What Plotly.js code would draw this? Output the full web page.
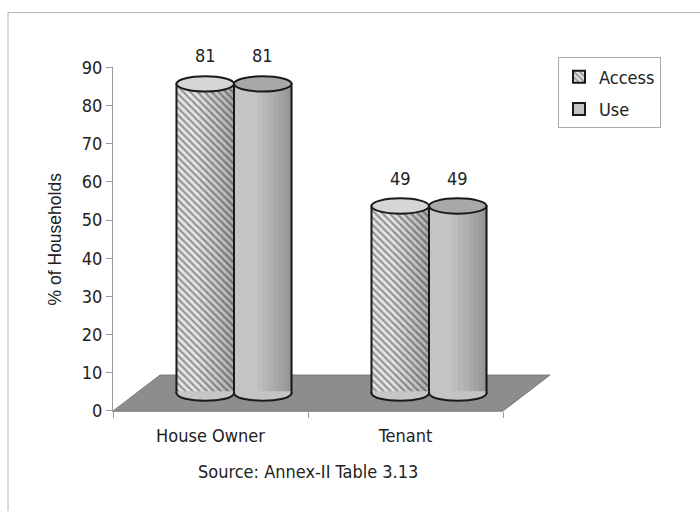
<!DOCTYPE html>
<html>
<head>
<meta charset="utf-8">
<script src="https://cdn.plot.ly/plotly-3.0.1.min.js"></script>
<style>html,body{margin:0;padding:0;background:#fff;}#chart{width:700px;height:511px;}</style>
</head>
<body>
<div id="chart"></div>
<script>
// ---- data ----
const categories = ["House Owner", "Tenant"];
const seriesNames = ["Access", "Use"];
const accessValues = [81, 49];
const useValues = [81, 49];
const yTickVals = [0, 10, 20, 30, 40, 50, 60, 70, 80, 90];
const sourceNote = "Source: Annex-II Table 3.13";
const yTitle = "% of Households";

// ---- geometry (pixels of the 700x511 canvas) ----
const L = 113, R = 526, T = 49.5, B = 411;
const W = R - L, H = B - T;
const axisW = 390, axisH = 344;          // front axis box
const depthX = 47, depthY = 36;           // floor depth
const shiftX = depthX / 2, shiftY = depthY / 2;  // cylinders sit mid-depth
const unitX = axisW / categories.length;  // px per category
const unitY = axisH / 90;                 // px per %
const barW = 0.295;                       // in category units
const capH = 2;                           // ellipse half-height in % units

const narrow = "'Liberation Sans Narrow', 'Arial Narrow', 'DejaVu Sans Condensed', sans-serif";
const regular = "'Liberation Sans', Arial, sans-serif";

const xs = categories.map((c, i) => i);

const x2Range = [(-0.5 * unitX - shiftX) / unitX, (W - 0.5 * unitX - shiftX) / unitX];
const y2Range = [-shiftY / unitY, (H - shiftY) / unitY];

const accessPattern = {shape: "\\", fgcolor: "#8f8f8f", bgcolor: "#e4e4e4", size: 5, solidity: 0.4};
const accessColor = "#cfcfcf";
const useColor = "#c4c4c4";
const useTop = "#a8a8a8";

const traces = [
  { // keeps the front axes drawn
    type: "scatter", x: [], y: [], xaxis: "x", yaxis: "y", showlegend: false, hoverinfo: "skip"
  },
  {
    type: "bar", name: seriesNames[0], x: xs, y: accessValues,
    xaxis: "x2", yaxis: "y2", width: barW, offset: -barW,
    marker: {color: accessColor, pattern: accessPattern, line: {color: "#1a1a1a", width: 2}},
    legendgroup: "a", hoverinfo: "skip"
  },
  {
    type: "bar", name: seriesNames[1], x: xs, y: useValues,
    xaxis: "x2", yaxis: "y2", width: barW, offset: 0,
    marker: {color: useColor, line: {color: "#1a1a1a", width: 2}},
    legendgroup: "b", hoverinfo: "skip"
  }
];

const shapes = [];
shapes.push({type: "rect", xref: "paper", yref: "paper",
  x0: (8 - L) / W, x1: 2, y0: -1, y1: (B - 12) / H,
  line: {color: "#b4b4b4", width: 1}, fillcolor: "rgba(0,0,0,0)", layer: "below"});
const fx0 = 0, fx1 = axisW / W, fdx = depthX / W, fdy = depthY / H;
shapes.push({type: "path", xref: "paper", yref: "paper", layer: "below",
  path: `M ${fx0},0 L ${fx1},0 L ${fx1 + fdx},${fdy} L ${fx0 + fdx},${fdy} Z`,
  fillcolor: "#8d8d8d", line: {color: "#7a7a7a", width: 1}});

const series = [
  {vals: accessValues, off: -barW, body: "#c6c6c6", top: "#d6d6d6"},
  {vals: useValues, off: 0, body: useColor, top: useTop}
];
// shading toward the right side of each cylinder
const shadeStarts = [0.40, 0.50, 0.60, 0.70, 0.78, 0.86, 0.93];
series.forEach(s => {
  s.vals.forEach((v, i) => {
    const xl = xs[i] + s.off;
    shadeStarts.forEach(f => {
      shapes.push({type: "rect", xref: "x2", yref: "y2", layer: "above",
        x0: xl + f * barW, x1: xl + barW, y0: 0, y1: v,
        fillcolor: "rgba(0,0,0,0.035)", line: {width: 0}});
    });
  });
});
const k = 4 / 3 * capH;
series.forEach(s => {
  s.vals.forEach((v, i) => {
    const xl = xs[i] + s.off, xr = xl + barW;
    shapes.push({type: "path", xref: "x2", yref: "y2", layer: "above",
      path: `M ${xl},0.45 L ${xl},0 C ${xl},${-k} ${xr},${-k} ${xr},0 L ${xr},0.45`,
      fillcolor: s.body, line: {color: "#1a1a1a", width: 2}});
  });
});
series.forEach(s => {
  s.vals.forEach((v, i) => {
    const xl = xs[i] + s.off, xr = xl + barW;
    shapes.push({type: "circle", xref: "x2", yref: "y2", layer: "above",
      x0: xl, x1: xr, y0: v - capH, y1: v + capH,
      fillcolor: s.top, line: {color: "#1a1a1a", width: 2}});
  });
});

const annotations = [];
series.forEach(s => {
  s.vals.forEach((v, i) => {
    annotations.push({xref: "x2", yref: "y2", x: xs[i] + s.off + barW / 2, y: v,
      text: String(v), showarrow: false, yshift: 28,
      font: {family: narrow, size: 18, color: "#222"}});
  });
});
annotations.push({xref: "paper", yref: "paper", x: (axisW / 2) / W, y: (B - 472) / H,
  xanchor: "center", yanchor: "middle", text: sourceNote, showarrow: false,
  font: {family: narrow, size: 18, color: "#222"}});

const layout = {
  width: 700, height: 511,
  margin: {l: L, r: 700 - R, t: T, b: 511 - B, pad: 0},
  paper_bgcolor: "#fff", plot_bgcolor: "rgba(0,0,0,0)",
  showlegend: true, barmode: "overlay",
  legend: {x: (558 - L) / W, y: (B - 57) / H, xanchor: "left", yanchor: "top",
    bordercolor: "#aaaaaa", borderwidth: 1, bgcolor: "#fff",
    font: {family: narrow, size: 18, color: "#222"},
    traceorder: "grouped", tracegroupgap: 6, itemwidth: 30},
  xaxis: {domain: [0, axisW / W], range: [-0.5, categories.length - 0.5], type: "linear",
    tickvals: xs, ticktext: categories, ticks: "", showgrid: false, zeroline: false,
    showline: true, linecolor: "#9a9a9a", linewidth: 1, ticklabelstandoff: 8,
    tickfont: {family: narrow, size: 18, color: "#222"},
    minor: {tickvals: [-0.5, 0.5, 1.5], ticks: "outside", ticklen: 6, tickcolor: "#9a9a9a", showgrid: false},
    fixedrange: true},
  yaxis: {domain: [0, axisH / H], range: [0, 90], tickvals: yTickVals,
    ticks: "outside", ticklen: 6, tickcolor: "#9a9a9a", showgrid: false, zeroline: false,
    showline: true, linecolor: "#9a9a9a", linewidth: 1,
    tickfont: {family: narrow, size: 18, color: "#222"},
    title: {text: yTitle, font: {family: regular, size: 17.5, color: "#222"}, standoff: 15},
    fixedrange: true},
  xaxis2: {domain: [0, 1], range: x2Range, anchor: "y2", visible: false, fixedrange: true},
  yaxis2: {domain: [0, 1], range: y2Range, anchor: "x2", visible: false, fixedrange: true},
  shapes: shapes,
  annotations: annotations
};

Plotly.newPlot("chart", traces, layout, {staticPlot: true, displayModeBar: false});
</script>
</body>
</html>
